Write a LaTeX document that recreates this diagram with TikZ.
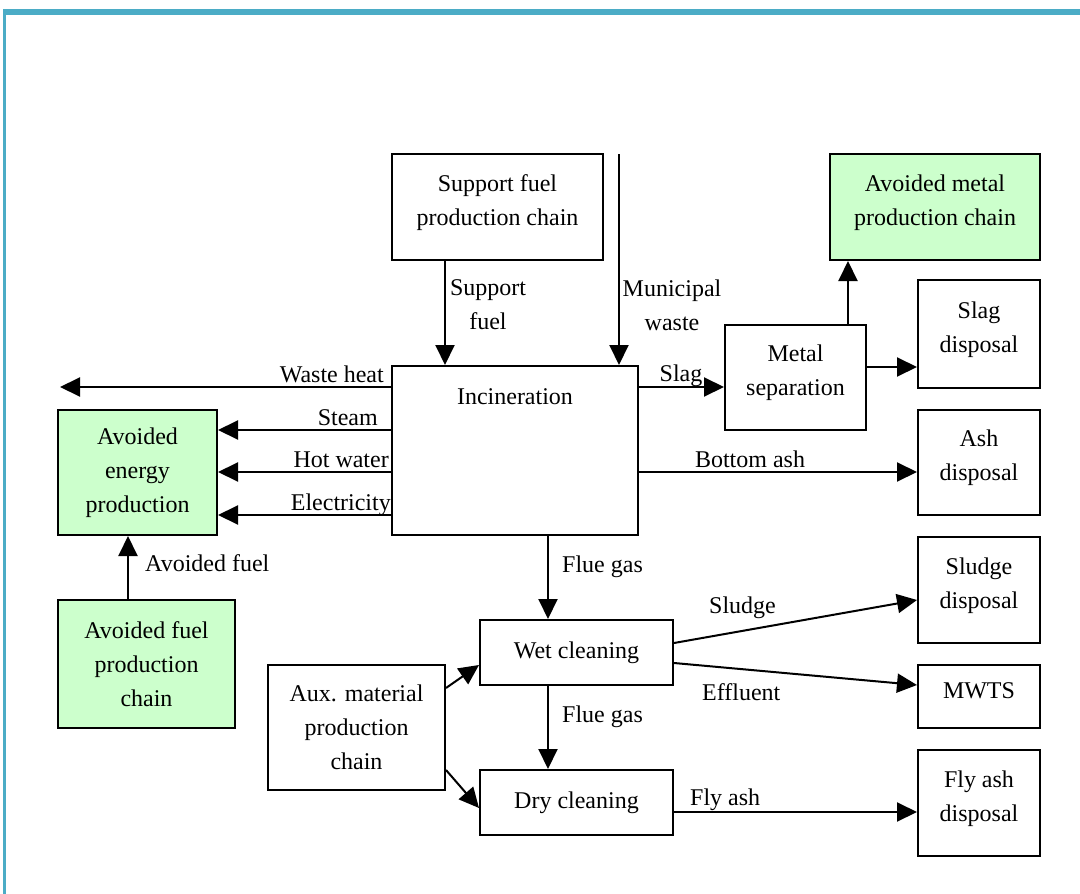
\documentclass[tikz,border=0pt]{standalone}
\usepackage{fontspec}
\setmainfont{Liberation Serif}
\usetikzlibrary{arrows.meta}
\definecolor{frame}{HTML}{4BACC6}
\definecolor{avoid}{HTML}{CCFFCC}
\begin{document}
\begin{tikzpicture}[x=1pt,y=-1pt,
  every node/.style={font=\fontsize{24}{34}\selectfont},
  box/.style={draw=black,line width=2pt,rectangle,align=center,inner sep=0pt},
  gbox/.style={box,fill=avoid},
  arr/.style={line width=2pt,-{Triangle[length=20pt,width=19pt]}},
  lbl/.style={inner sep=0pt}]
\useasboundingbox (0,0) rectangle (1080,894);
\fill[white] (0,0) rectangle (1080,894);
\fill[frame] (3,9) rectangle (1080,15);
\fill[frame] (3,9) rectangle (6,894);

% boxes
\node[box,minimum width=211pt,minimum height=106pt] (sfc) at (497.5,207) {Support fuel\\production chain\\[-20pt]};
\node[box,minimum width=246pt,minimum height=169pt] (inc) at (515,450.5) {};
\node[lbl] (inct) at (515,397) {Incineration};
\node[gbox,minimum width=210pt,minimum height=106pt] (amc) at (935,207) {Avoided metal\\production chain\\[-20pt]};
\node[box,minimum width=141pt,minimum height=105pt] (ms) at (795.5,377.5) {Metal\\separation\\[-20pt]};
\node[box,minimum width=122pt,minimum height=108pt] (sd) at (979,334) {Slag\\disposal\\[-20pt]};
\node[box,minimum width=122pt,minimum height=105pt] (ad) at (979,462.5) {Ash\\disposal\\[-20pt]};
\node[box,minimum width=122pt,minimum height=106pt] (sld) at (979,590) {Sludge\\disposal\\[-20pt]};
\node[box,minimum width=122pt,minimum height=63pt] (mwts) at (979,696.5) {MWTS\\[-22pt]};
\node[box,minimum width=122pt,minimum height=106pt] (fad) at (979,803) {Fly ash\\disposal\\[-20pt]};
\node[gbox,minimum width=159pt,minimum height=125pt] (aep) at (137.5,472.5) {Avoided\\energy\\production};
\node[gbox,minimum width=177pt,minimum height=128pt] (afc) at (146.5,664) {Avoided fuel\\production\\chain};
\node[box,minimum width=177pt,minimum height=125pt] (aux) at (356.5,727.5) {Aux. material\\production\\chain};
\node[box,minimum width=193pt,minimum height=65pt] (wet) at (576.5,652.5) {Wet cleaning};
\node[box,minimum width=193pt,minimum height=65pt] (dry) at (576.5,802.5) {Dry cleaning};

% free ends
\coordinate (mw) at (619,154);
\coordinate (wh) at (60,387);

% connectors
\draw[arr] ([xshift=-52.5pt]sfc.south) -- ([xshift=-70pt]inc.north);
\draw[arr] (mw) -- ([xshift=104pt]inc.north);
\draw[arr] ([yshift=63.5pt]inc.west) -- (wh);
\draw[arr] ([yshift=20.5pt]inc.west) -- ([yshift=42.5pt]aep.east);
\draw[arr] ([yshift=-21.5pt]inc.west) -- ([yshift=0.5pt]aep.east);
\draw[arr] ([yshift=-64.5pt]inc.west) -- ([yshift=-42.5pt]aep.east);
\draw[arr] ([xshift=-18.5pt]afc.north) -- ([xshift=-9.5pt]aep.south);
\draw[arr] ([yshift=63.5pt]inc.east) -- ([yshift=-9.5pt]ms.west);
\draw[arr] ([xshift=52.5pt]ms.north) -- ([xshift=-87pt]amc.south);
\draw[arr] ([yshift=10.5pt]ms.east) -- ([yshift=-33pt]sd.west);
\draw[arr] ([yshift=-21.5pt]inc.east) -- ([yshift=-9.5pt]ad.west);
\draw[arr] ([xshift=33pt]inc.south) -- ([xshift=-28.5pt]wet.north);
\draw[arr] ([yshift=9.5pt]wet.east) -- ([yshift=-10pt]sld.west);
\draw[arr] ([yshift=-10.5pt]wet.east) -- ([yshift=11.5pt]mwts.west);
\draw[arr] ([xshift=-28.5pt]wet.south) -- ([xshift=-28.5pt]dry.north);
\draw[arr] ([yshift=39.5pt]aux.east) -- ([yshift=-12.5pt]wet.west);
\draw[arr] ([yshift=-42.5pt]aux.east) -- ([yshift=-5.5pt]dry.west);
\draw[arr] ([yshift=-9.5pt]dry.east) -- ([yshift=-9pt]fad.west);

% connector labels
\node[lbl,anchor=base east] (l1) at (384,382) {Waste heat};
\node[lbl,anchor=base east] (l2) at (378,425) {Steam};
\node[lbl,anchor=base east] (l3) at (389,467) {Hot water};
\node[lbl,anchor=base east] (l4) at (391,510) {Electricity};
\node[lbl,align=center] (l5) at (488,305) {Support\\fuel};
\node[lbl,align=center] (l6) at (672,305) {Municipal\\waste};
\node[lbl,anchor=base] (l7) at (681,381) {Slag};
\node[lbl,anchor=base] (l8) at (750,467) {Bottom ash};
\node[lbl,anchor=base west] (l9) at (562,572) {Flue gas};
\node[lbl,anchor=base west] (l10) at (145,571) {Avoided fuel};
\node[lbl,anchor=base west] (l11) at (709,613) {Sludge};
\node[lbl,anchor=base west] (l12) at (702,700) {Effluent};
\node[lbl,anchor=base west] (l13) at (562,722) {Flue gas};
\node[lbl,anchor=base west] (l14) at (690,805) {Fly ash};
\end{tikzpicture}
\end{document}
